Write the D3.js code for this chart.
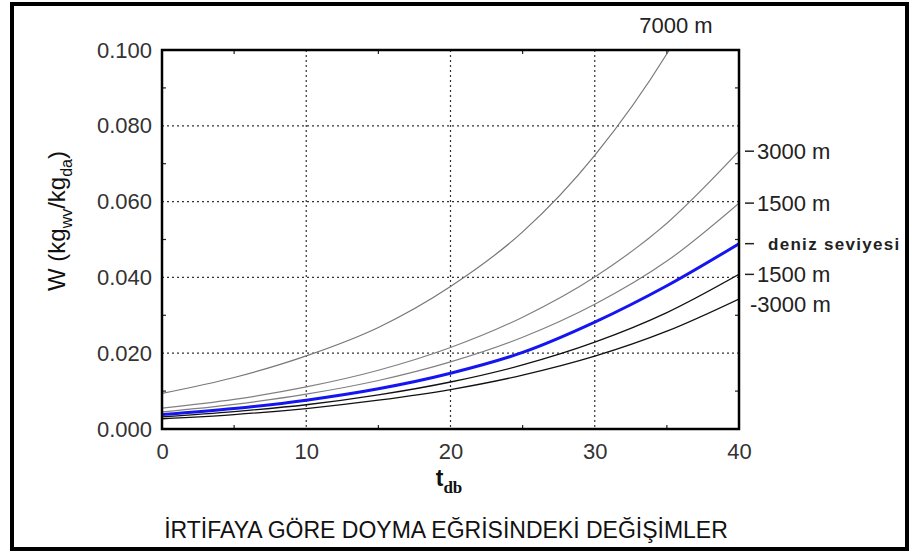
<!DOCTYPE html>
<html>
<head>
<meta charset="utf-8">
<script src="https://cdn.jsdelivr.net/npm/d3@7"></script>
<style>
  body { margin: 0; background: #fff; }
  svg { display: block; font-family: "Liberation Sans", Arial, sans-serif; }
</style>
</head>
<body>
<svg id="chart"></svg>
<script>
// dry bulb temperature samples (°C)
const tdb = [0, 5, 10, 15, 20, 25, 30, 35, 40];

// saturation humidity ratio W, one list per altitude
const w7000 = [0.0094, 0.0136, 0.0193, 0.0268, 0.0376, 0.0520, 0.0722, 0.0990, 0.1340];
const w3000 = [0.0055, 0.0078, 0.0111, 0.0155, 0.0215, 0.0295, 0.0401, 0.0543, 0.0733];
const w1500 = [0.0045, 0.0065, 0.0092, 0.0128, 0.0177, 0.0242, 0.0329, 0.0443, 0.0596];
const wSea = [0.0038, 0.0054, 0.0076, 0.0106, 0.0147, 0.0202, 0.0282, 0.0378, 0.0489];
const wMinus1500 = [0.0032, 0.0046, 0.0064, 0.0090, 0.0124, 0.0169, 0.0229, 0.0307, 0.0408];
const wMinus3000 = [0.0027, 0.0038, 0.0054, 0.0076, 0.0104, 0.0142, 0.0192, 0.0258, 0.0343];

const seriesNames = ["7000 m", "3000 m", "1500 m", "deniz seviyesi", "1500 m", "-3000 m"];
const xTicks = [0, 10, 20, 30, 40];
const yTicks = [0, 0.02, 0.04, 0.06, 0.08, 0.1];

class SaturationChart {

  constructor(_config) {
    this.config = {
      parentElement: _config.parentElement,
      containerWidth: _config.containerWidth || 912,
      containerHeight: _config.containerHeight || 557,
      margin: { top: 50, bottom: 128, right: 173, left: 162 }
    }
    this.series = [
      { name: seriesNames[0], values: w7000, color: "#777", width: 1.2 },
      { name: seriesNames[1], values: w3000, color: "#808080", width: 1.2 },
      { name: seriesNames[2], values: w1500, color: "#808080", width: 1.2 },
      { name: seriesNames[3], values: wSea, color: "#1515f0", width: 3 },
      { name: seriesNames[4], values: wMinus1500, color: "#111", width: 1.3 },
      { name: seriesNames[5], values: wMinus3000, color: "#111", width: 1.3 }
    ];
    this.initVis();
  }

  initVis() {
    let vis = this;
    vis.width = vis.config.containerWidth - vis.config.margin.left - vis.config.margin.right;
    vis.height = vis.config.containerHeight - vis.config.margin.top - vis.config.margin.bottom;

    vis.svg = d3.select(vis.config.parentElement)
      .attr('width', vis.config.containerWidth)
      .attr('height', vis.config.containerHeight);

    // thick outer frame
    vis.svg.append('rect')
      .attr('x', 12).attr('y', 4)
      .attr('width', 895).attr('height', 545)
      .attr('fill', 'none')
      .attr('stroke', '#000')
      .attr('stroke-width', 4);

    vis.chart = vis.svg.append('g')
      .attr('transform', `translate(${vis.config.margin.left},${vis.config.margin.top})`);

    vis.xScale = d3.scaleLinear().domain([0, 40]).range([0, vis.width]);
    vis.yScale = d3.scaleLinear().domain([0, 0.1]).range([vis.height, 0]);

    vis.svg.append('defs').append('clipPath')
      .attr('id', 'plot-clip')
      .append('rect')
      .attr('width', vis.width)
      .attr('height', vis.height);

    vis.updateVis();
  }

  updateVis() {
    let vis = this;

    // dotted grid
    vis.chart.append('g')
      .selectAll('line')
      .data(xTicks.slice(1, -1))
      .join('line')
        .attr('x1', d => vis.xScale(d)).attr('x2', d => vis.xScale(d))
        .attr('y1', 0).attr('y2', vis.height)
        .attr('stroke', '#333').attr('stroke-width', 1.2)
        .attr('stroke-dasharray', '2,3');

    vis.chart.append('g')
      .selectAll('line')
      .data(yTicks.slice(1, -1))
      .join('line')
        .attr('x1', 0).attr('x2', vis.width)
        .attr('y1', d => vis.yScale(d)).attr('y2', d => vis.yScale(d))
        .attr('stroke', '#333').attr('stroke-width', 1.2)
        .attr('stroke-dasharray', '2,3');

    // small inward ticks on all four sides
    let minorX = d3.range(5, 40, 10);
    let minorY = d3.range(0.01, 0.1, 0.02);
    let tickG = vis.chart.append('g').attr('stroke', '#222').attr('stroke-width', 1.2);
    minorX.forEach(t => {
      tickG.append('line').attr('x1', vis.xScale(t)).attr('x2', vis.xScale(t)).attr('y1', vis.height).attr('y2', vis.height - 4);
      tickG.append('line').attr('x1', vis.xScale(t)).attr('x2', vis.xScale(t)).attr('y1', 0).attr('y2', 4);
    });
    minorY.forEach(w => {
      tickG.append('line').attr('y1', vis.yScale(w)).attr('y2', vis.yScale(w)).attr('x1', 0).attr('x2', 4);
      tickG.append('line').attr('y1', vis.yScale(w)).attr('y2', vis.yScale(w)).attr('x1', vis.width).attr('x2', vis.width - 4);
    });

    // curves
    let line = d3.line()
      .x((d, i) => vis.xScale(tdb[i]))
      .y(d => vis.yScale(d))
      .curve(d3.curveMonotoneX);

    vis.chart.append('g')
      .attr('clip-path', 'url(#plot-clip)')
      .selectAll('path')
      .data(vis.series)
      .join('path')
        .attr('d', d => line(d.values))
        .attr('fill', 'none')
        .attr('stroke', d => d.color)
        .attr('stroke-width', d => d.width);

    // plot frame
    vis.chart.append('rect')
      .attr('width', vis.width).attr('height', vis.height)
      .attr('fill', 'none').attr('stroke', '#000').attr('stroke-width', 2.5);

    // axes, only for the labels
    vis.xAxisG = d3.axisBottom(vis.xScale).tickValues(xTicks).tickSize(0).tickPadding(14);
    vis.chart.append('g')
      .attr('transform', `translate(0, ${vis.height})`)
      .call(vis.xAxisG)
      .call(g => g.select('.domain').remove())
      .selectAll('text')
        .style('font-size', '22px')
        .attr('fill', '#333')
        .attr('font-family', '"Liberation Sans", Arial, sans-serif');

    vis.yAxisG = d3.axisLeft(vis.yScale).tickValues(yTicks).tickFormat(d3.format('.3f')).tickSize(0).tickPadding(10);
    vis.chart.append('g')
      .call(vis.yAxisG)
      .call(g => g.select('.domain').remove())
      .selectAll('text')
        .style('font-size', '22px')
        .attr('fill', '#333')
        .attr('font-family', '"Liberation Sans", Arial, sans-serif');

    // altitude labels at the right end of each curve
    let right = vis.config.margin.left + vis.width;
    let labels = vis.series.slice(1);
    labels.forEach((s, i) => {
      let yEnd = vis.config.margin.top + vis.yScale(s.values[s.values.length - 1]);
      let isSea = s.name === 'deniz seviyesi';
      let isLast = i === labels.length - 1;
      if (!isLast) {
        vis.svg.append('line')
          .attr('x1', right + 6).attr('x2', right + 15)
          .attr('y1', yEnd).attr('y2', yEnd)
          .attr('stroke', '#222').attr('stroke-width', 1.5);
      }
      vis.svg.append('text')
        .attr('x', isLast ? right + 11 : (isSea ? right + 29 : right + 18))
        .attr('y', isLast ? yEnd + 5 : yEnd)
        .attr('dy', '0.35em')
        .attr('fill', '#222')
        .attr('font-weight', isSea ? 'bold' : null)
        .attr('letter-spacing', isSea ? 1.3 : null)
        .style('font-size', isSea ? '17px' : '22px')
        .text(s.name);
    });

    vis.svg.append('text')
      .attr('x', 676).attr('y', 25)
      .attr('dy', '0.35em')
      .attr('text-anchor', 'middle')
      .attr('fill', '#222')
      .style('font-size', '22px')
      .text(vis.series[0].name);

    // y axis title
    let yTitle = vis.svg.append('text')
      .attr('transform', `translate(65, 221) rotate(-90)`)
      .attr('text-anchor', 'middle')
      .attr('fill', '#111')
      .style('font-size', '24px');
    yTitle.append('tspan').text('W (kg');
    yTitle.append('tspan').attr('dy', 7).style('font-size', '16px').text('wv');
    yTitle.append('tspan').attr('dy', -7).text('/kg');
    yTitle.append('tspan').attr('dy', 7).style('font-size', '16px').text('da');
    yTitle.append('tspan').attr('dy', -7).text(')');

    // x axis title
    let xTitle = vis.svg.append('text')
      .attr('x', 449).attr('y', 486)
      .attr('text-anchor', 'middle')
      .attr('fill', '#111')
      .attr('font-weight', 'bold')
      .style('font-size', '23px');
    xTitle.append('tspan').text('t');
    xTitle.append('tspan').attr('dy', 7)
      .attr('font-family', '"Liberation Serif", "Times New Roman", serif')
      .style('font-size', '17px').text('db');

    vis.svg.append('text')
      .attr('x', 446).attr('y', 538)
      .attr('text-anchor', 'middle')
      .attr('fill', '#111')
      .style('font-size', '23px')
      .text('İRTİFAYA GÖRE DOYMA EĞRİSİNDEKİ DEĞİŞİMLER');
  }
}

new SaturationChart({ parentElement: '#chart' });
</script>
</body>
</html>
